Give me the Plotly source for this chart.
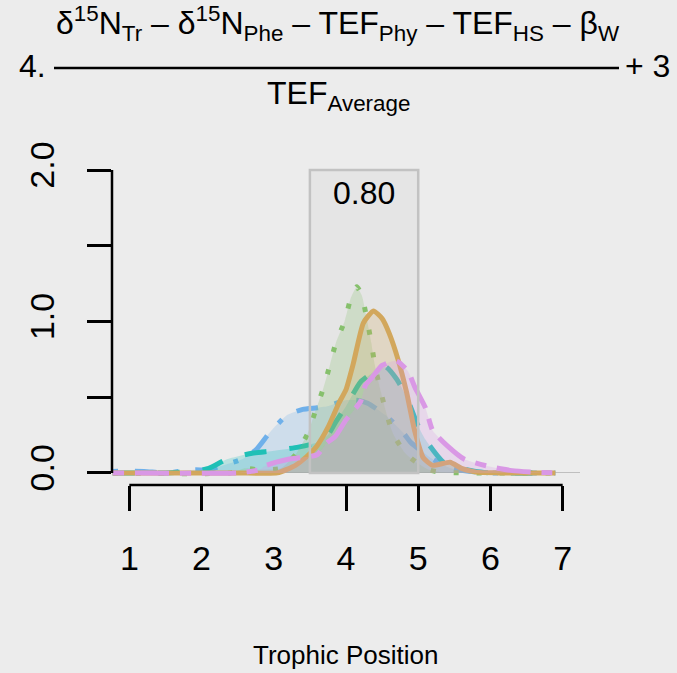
import plotly.graph_objects as go

# ---------------- data ----------------
x_ticks = [1, 2, 3, 4, 5, 6, 7]
y_ticks = [0, 0.5, 1.0, 1.5, 2.0]
y_ticktext = ["0.0", "", "1.0", "", "2.0"]

blue_x = [0.77, 1.2, 1.5, 1.9, 2.1, 2.23, 2.56, 2.75, 2.95, 3.18, 3.4, 3.6, 3.74, 4.0, 4.15, 4.3, 4.55, 4.8, 4.9, 5.2, 5.45, 5.7, 6.0, 6.5, 6.9]
blue_y = [0.01, 0.01, 0.0, 0.02, 0.02, 0.04, 0.09, 0.15, 0.27, 0.38, 0.42, 0.43, 0.44, 0.48, 0.48, 0.46, 0.38, 0.26, 0.2, 0.09, 0.03, 0.01, 0.0, 0.0, 0.0]

teal_x = [0.77, 1.5, 1.9, 2.1, 2.35, 2.7, 2.98, 3.34, 3.6, 3.75, 3.85, 4.0, 4.2, 4.4, 4.55, 4.7, 4.84, 4.98, 5.1, 5.35, 5.6, 5.8, 6.0, 6.5, 6.9]
teal_y = [0.0, 0.0, 0.01, 0.03, 0.09, 0.13, 0.145, 0.17, 0.2, 0.25, 0.33, 0.44, 0.6, 0.67, 0.7, 0.62, 0.5, 0.33, 0.22, 0.07, 0.03, 0.01, 0.0, 0.0, 0.0]

green_x = [0.77, 2.4, 2.6, 2.8, 3.1, 3.3, 3.47, 3.57, 3.68, 3.77, 3.86, 3.98, 4.07, 4.15, 4.22, 4.35, 4.4, 4.47, 4.55, 4.65, 4.82, 5.0, 5.15, 5.3, 5.6, 6.2, 6.9]
green_y = [0.0, 0.0, 0.03, 0.02, 0.03, 0.12, 0.26, 0.4, 0.55, 0.7, 0.86, 1.0, 1.16, 1.23, 1.17, 0.86, 0.71, 0.56, 0.41, 0.26, 0.13, 0.06, 0.02, 0.005, 0.0, 0.0, 0.0]

gold_x = [0.77, 2.5, 3.05, 3.3, 3.46, 3.6, 3.75, 3.9, 4.0, 4.1, 4.24, 4.38, 4.5, 4.6, 4.72, 4.84, 4.95, 5.07, 5.2, 5.44, 5.6, 5.8, 6.1, 6.9]
gold_y = [0.0, 0.0, 0.0, 0.05, 0.11, 0.18, 0.3, 0.46, 0.55, 0.72, 0.99, 1.07, 1.02, 0.92, 0.75, 0.53, 0.28, 0.1, 0.05, 0.07, 0.03, 0.005, 0.0, 0.0]

pink_x = [0.77, 2.5, 2.8, 2.9, 3.2, 3.6, 3.74, 3.85, 4.0, 4.2, 4.27, 4.36, 4.5, 4.7, 4.86, 4.95, 5.1, 5.2, 5.4, 5.64, 6.0, 6.3, 6.6, 6.92]
pink_y = [0.0, 0.0, 0.02, 0.05, 0.09, 0.12, 0.2, 0.24, 0.35, 0.47, 0.58, 0.63, 0.71, 0.74, 0.67, 0.57, 0.43, 0.28, 0.18, 0.09, 0.04, 0.015, 0.005, 0.0]

interval_lo = 3.5
interval_hi = 5.0
interval_top = 2.0
interval_label = "0.80"

x_title = "Trophic Position"

# ---------------- styling ----------------
BG = "#ececec"
FONT = "Liberation Sans, Arial, Helvetica, sans-serif"
W, H = 677, 673
L, R, T, B = 112, 97, 158, 188
PW, PH = W - L - R, H - T - B


def px(xp):
    return (xp - L) / PW


def py(yp):
    return (H - B - yp) / PH


series = [
    (blue_x, blue_y, "#6fb0ea", "5px,17px,22px,17px"),
    (teal_x, teal_y, "#1fc0b6", "22px,23px"),
    (green_x, green_y, "#86c06c", "5px,18px"),
    (gold_x, gold_y, "#d2a75c", "solid"),
    (pink_x, pink_y, "#d998e5", "11px,11px,34px,11px"),
]


def rgba(hexc, a):
    h = hexc.lstrip("#")
    return "rgba(%d,%d,%d,%.2f)" % (int(h[0:2], 16), int(h[2:4], 16), int(h[4:6], 16), a)


fig = go.Figure()
for xs, ys, col, dash in series:
    fig.add_trace(go.Scatter(
        x=xs, y=ys, mode="lines",
        line=dict(color=col, width=5, dash=dash, shape="spline", smoothing=0.5),
        fill="tozeroy", fillcolor=rgba(col, 0.24),
        hoverinfo="skip", showlegend=False,
    ))

shapes = [
    dict(type="rect", xref="x", yref="y", x0=interval_lo, x1=interval_hi, y0=0, y1=interval_top,
         fillcolor="rgba(170,170,170,0.09)", line=dict(width=0), layer="below"),
    dict(type="rect", xref="x", yref="y", x0=interval_lo, x1=interval_hi, y0=0, y1=interval_top,
         fillcolor="rgba(0,0,0,0)", line=dict(color="#c2c2c2", width=2.5), layer="above"),
    dict(type="line", xref="paper", yref="y", x0=0, x1=0, y0=min(y_ticks), y1=max(y_ticks),
         line=dict(color="black", width=2.5)),
    dict(type="line", xref="x", yref="paper", x0=min(x_ticks), x1=max(x_ticks), y0=0, y1=0,
         line=dict(color="black", width=2.5)),
    dict(type="line", xref="paper", yref="paper", x0=px(54), x1=px(619), y0=py(68), y1=py(68),
         line=dict(color="black", width=2.5)),
]


def ann(text, x, y, size, xref="paper", yref="paper"):
    return dict(text=text, x=x, y=y, xref=xref, yref=yref, showarrow=False,
                xanchor="center", yanchor="middle",
                font=dict(size=size, color="black", family=FONT))


annotations = [
    ann(interval_label, (interval_lo + interval_hi) / 2, 1.85, 32, "x", "y"),
    ann("δ<sup>15</sup>N<sub>Tr</sub> – δ<sup>15</sup>N<sub>Phe</sub> – TEF<sub>Phy</sub> – TEF<sub>HS</sub> – β<sub>W</sub>",
        px(338), py(24), 32),
    ann("TEF<sub>Average</sub>", px(338), py(96), 32),
    ann("4.", px(32), py(66), 32),
    ann("+ 3", px(647), py(66), 32),
    ann(x_title, px(345), py(655), 26),
]

fig.update_layout(
    width=W, height=H,
    margin=dict(l=L, r=R, t=T, b=B, pad=0),
    paper_bgcolor=BG, plot_bgcolor=BG,
    shapes=shapes, annotations=annotations,
    font=dict(family=FONT, color="black"),
    xaxis=dict(range=[0.76, 7.24], tickvals=x_ticks, ticks="outside", ticklen=25, tickwidth=2.5,
               tickcolor="black", showgrid=False, zeroline=False, showline=False,
               tickfont=dict(size=34, family=FONT, color="black"), ticklabelstandoff=18,
               fixedrange=True),
    yaxis=dict(range=[-0.08, 2.08], tickvals=y_ticks, ticktext=y_ticktext, ticks="outside",
               ticklen=24, tickwidth=2.5, tickcolor="black", showgrid=False,
               zeroline=True, zerolinecolor="#bfbfbf", zerolinewidth=1.2, showline=False,
               tickangle=-90, tickfont=dict(size=34, family=FONT, color="black"),
               ticklabelstandoff=19, fixedrange=True),
)

fig.write_html("out.html", config={"displayModeBar": False},
               post_script="document.body.style.margin='0';document.body.style.overflow='hidden';")
